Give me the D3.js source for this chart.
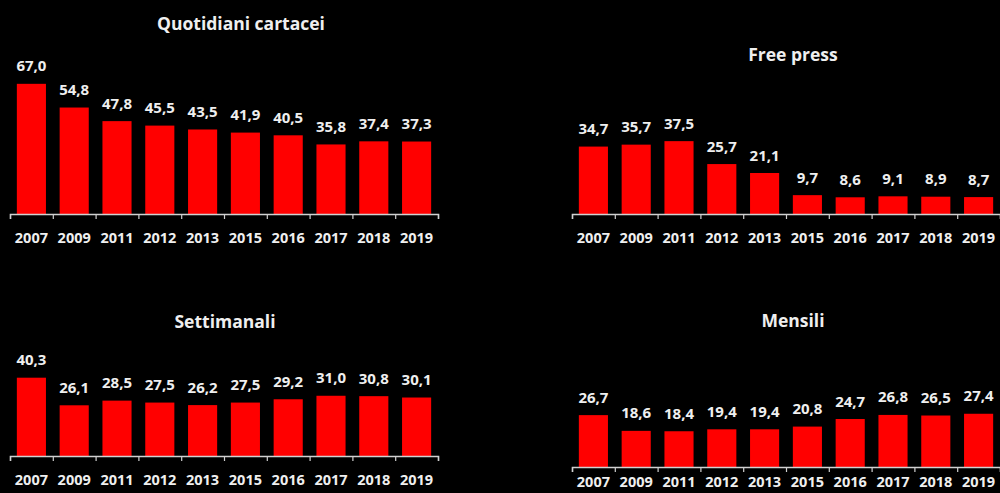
<!DOCTYPE html>
<html>
<head>
<meta charset="utf-8">
<script src="https://cdn.jsdelivr.net/npm/d3@7"></script>
<style>
  html, body { margin: 0; padding: 0; background: #000; }
  svg { display: block; }
  text { font-family: "Open Sans", "DejaVu Sans", sans-serif; font-weight: 700; fill: #efefef; }
</style>
</head>
<body>
<svg id="chart" width="1000" height="493"></svg>
<script>
const years = ["2007", "2009", "2011", "2012", "2013", "2015", "2016", "2017", "2018", "2019"];
const titles = ["Quotidiani cartacei", "Free press", "Settimanali", "Mensili"];
const quotidiani = [67.0, 54.8, 47.8, 45.5, 43.5, 41.9, 40.5, 35.8, 37.4, 37.3];
const freePress = [34.7, 35.7, 37.5, 25.7, 21.1, 9.7, 8.6, 9.1, 8.9, 8.7];
const settimanali = [40.3, 26.1, 28.5, 27.5, 26.2, 27.5, 29.2, 31.0, 30.8, 30.1];
const mensili = [26.7, 18.6, 18.4, 19.4, 19.4, 20.8, 24.7, 26.8, 26.5, 27.4];
const series = [quotidiani, freePress, settimanali, mensili];

const panels = [
  { x0: 10,  axisY: 214, titleX: 241, titleY: 30,  yearY: 243 },
  { x0: 572, axisY: 214, titleX: 793, titleY: 61,  yearY: 243 },
  { x0: 10,  axisY: 456, titleX: 225, titleY: 328, yearY: 485 },
  { x0: 572, axisY: 467, titleX: 793, titleY: 327, yearY: 487 }
];
const panelWidth = 428;
const fmt = v => d3.format(".1f")(v).replace(".", ",");

const svg = d3.select("#chart");

panels.forEach((p, i) => {
  const data = series[i];
  const g = svg.append("g");
  const x = d3.scaleBand().domain(years).range([p.x0, p.x0 + panelWidth]).paddingInner(0.32).paddingOuter(0.16);
  const y = d3.scaleLinear().domain([0, 70]).range([p.axisY, p.axisY - 136]);

  g.append("text")
    .attr("x", p.titleX)
    .attr("y", p.titleY)
    .attr("text-anchor", "middle")
    .style("font-size", "17.5px")
    .text(titles[i]);

  g.selectAll("rect.bar").data(data).enter().append("rect")
    .attr("class", "bar")
    .attr("x", (d, j) => x(years[j]))
    .attr("width", x.bandwidth())
    .attr("y", d => y(d))
    .attr("height", d => y(0) - y(d))
    .attr("fill", "#ff0000");

  g.selectAll("text.val").data(data).enter().append("text")
    .attr("class", "val")
    .attr("x", (d, j) => x(years[j]) + x.bandwidth() / 2)
    .attr("y", d => y(d) - 12.5)
    .attr("text-anchor", "middle")
    .style("font-size", "15px")
    .text(d => fmt(d));

  const xo = d3.scalePoint().domain(d3.range(years.length + 1)).range([p.x0, p.x0 + panelWidth]);
  const ax = g.append("g").attr("transform", `translate(0,${p.axisY})`)
    .call(d3.axisBottom(xo).tickSize(5).tickFormat(""));
  ax.select(".domain").attr("stroke", "#d0d0d0").attr("stroke-width", 1.5);
  ax.selectAll(".tick line").attr("stroke", "#d0d0d0").attr("stroke-width", 1.2);

  g.selectAll("text.year").data(years).enter().append("text")
    .attr("class", "year")
    .attr("x", d => x(d) + x.bandwidth() / 2)
    .attr("y", p.yearY)
    .attr("text-anchor", "middle")
    .style("font-size", "14.5px")
    .text(d => d);
});
</script>
</body>
</html>
